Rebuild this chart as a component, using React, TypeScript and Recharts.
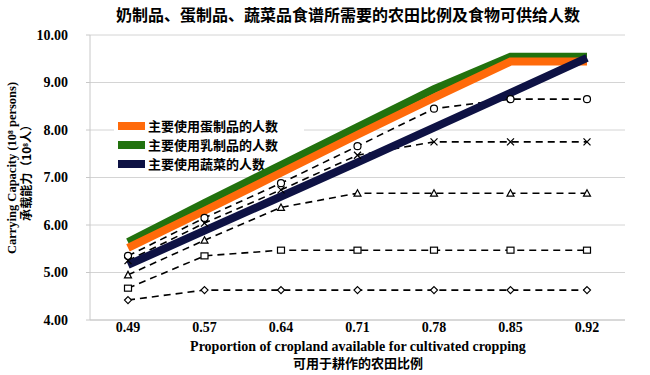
import React from 'react';
import { LineChart, Line, XAxis, YAxis, CartesianGrid, Customized } from 'recharts';

const categories = ['0.49', '0.57', '0.64', '0.71', '0.78', '0.85', '0.92'];
const eggSeries = [5.52, 6.3, 7.1, 7.9, 8.68, 9.44, 9.44];
const dairySeries = [5.64, 6.46, 7.26, 8.06, 8.86, 9.54, 9.54];
const vegSeries = [5.16, 5.88, 6.6, 7.32, 8.05, 8.78, 9.52];
const circleSeries = [5.35, 6.15, 6.88, 7.66, 8.45, 8.65, 8.65];
const crossSeries = [5.25, 6.04, 6.74, 7.47, 7.75, 7.75, 7.75];
const triangleSeries = [4.95, 5.68, 6.37, 6.67, 6.67, 6.67, 6.67];
const squareSeries = [4.67, 5.35, 5.47, 5.47, 5.47, 5.47, 5.47];
const diamondSeries = [4.42, 4.63, 4.63, 4.63, 4.63, 4.63, 4.63];
const yTicks = [4, 5, 6, 7, 8, 9, 10];

const legendItems = [
  { name: '主要使用蛋制品的人数', color: '#FF6A0A' },
  { name: '主要使用乳制品的人数', color: '#22720E' },
  { name: '主要使用蔬菜的人数', color: '#0E1244' },
];

const data = categories.map((c, i) => ({
  cat: c,
  egg: eggSeries[i],
  dairy: dairySeries[i],
  veg: vegSeries[i],
  circle: circleSeries[i],
  cross: crossSeries[i],
  tri: triangleSeries[i],
  square: squareSeries[i],
  diamond: diamondSeries[i],
}));

const serif = '"Liberation Serif", "Noto Sans CJK SC", serif';
const cjk = '"Noto Sans CJK SC", serif';

const makeDot = (shape: string) => (props: any) => {
  const { cx, cy, key, index } = props;
  const k = key ?? `${shape}-${index}`;
  if (cx == null || cy == null) return <g key={k} />;
  const s = 3.5;
  const common = { fill: '#fff', stroke: '#000', strokeWidth: 1.2 };
  if (shape === 'circle') return <circle key={k} cx={cx} cy={cy} r={s} {...common} />;
  if (shape === 'cross')
    return (
      <path key={k} d={`M${cx - s},${cy - s}L${cx + s},${cy + s}M${cx - s},${cy + s}L${cx + s},${cy - s}`} stroke="#000" strokeWidth={1.3} fill="none" />
    );
  if (shape === 'triangle')
    return <path key={k} d={`M${cx},${cy - s}L${cx + s},${cy + s - 0.5}L${cx - s},${cy + s - 0.5}Z`} {...common} />;
  if (shape === 'square')
    return <rect key={k} x={cx - s} y={cy - s + 0.5} width={2 * s} height={2 * s - 1} {...common} />;
  return <path key={k} d={`M${cx},${cy - s}L${cx + s},${cy}L${cx},${cy + s}L${cx - s},${cy}Z`} {...common} />;
};

const LegendBox = () => (
  <g>
    <rect x={114} y={115} width={190} height={58} fill="#fff" />
    {legendItems.map((it, i) => (
      <g key={it.name}>
        <rect x={118} y={122 + i * 19} width={27} height={8} fill={it.color} />
        <text x={148} y={131 + i * 19} fontSize={13} fontWeight="bold" fontFamily={cjk} fill="#000">
          {it.name}
        </text>
      </g>
    ))}
  </g>
);

const Labels = () => (
  <g>
    <text x={348} y={21} textAnchor="middle" fontSize={16} fontWeight="bold" fontFamily={cjk} fill="#000">
      奶制品、蛋制品、蔬菜品食谱所需要的农田比例及食物可供给人数
    </text>
    <text x={358} y={351} textAnchor="middle" fontSize={14} fontWeight="bold" fontFamily={serif} fill="#000">
      Proportion of cropland available for cultivated cropping
    </text>
    <text x={358} y={368} textAnchor="middle" fontSize={13} fontWeight="bold" fontFamily={cjk} fill="#000">
      可用于耕作的农田比例
    </text>
    <text transform="translate(16,168) rotate(-90)" textAnchor="middle" fontSize={12.5} fontWeight="bold" fontFamily={serif} fill="#000">
      Carrying Capacity (10⁸ persons)
    </text>
    <text transform="translate(31,170) rotate(-90)" textAnchor="middle" fontSize={12} fontWeight="bold" fontFamily={cjk} fill="#000">
      承载能力（10⁸人）
    </text>
  </g>
);

const dashedSeries = [
  { key: 'circle', shape: 'circle' },
  { key: 'cross', shape: 'cross' },
  { key: 'tri', shape: 'triangle' },
  { key: 'square', shape: 'square' },
  { key: 'diamond', shape: 'diamond' },
];

export default function App() {
  return (
    <div style={{ position: 'absolute', left: 0, top: 0, width: 650, height: 375, background: '#fff' }}>
      <LineChart width={650} height={375} data={data} margin={{ top: 35, right: 25, left: 0, bottom: 0 }}>
        <CartesianGrid vertical={false} stroke="#d4d4d4" />
        <XAxis
          dataKey="cat"
          height={55}
          padding={{ left: 38, right: 38 }}
          tickLine={false}
          tickSize={0}
          axisLine={{ stroke: '#c8c8c8' }}
          tick={{ fontSize: 14, fontWeight: 'bold', fill: '#000', fontFamily: serif }}
          tickMargin={2}
        />
        <YAxis
          width={90}
          domain={[4, 10]}
          ticks={yTicks}
          tickFormatter={(v: number) => v.toFixed(2)}
          tickSize={4}
          tickMargin={18}
          tickLine={{ stroke: '#c8c8c8' }}
          axisLine={{ stroke: '#c8c8c8' }}
          tick={{ fontSize: 14, fontWeight: 'bold', fill: '#000', fontFamily: serif }}
          interval={0}
        />
        <Customized component={LegendBox} />
        {dashedSeries.map((d) => (
          <Line
            key={d.key}
            dataKey={d.key}
            type="linear"
            stroke="#000"
            strokeWidth={1.6}
            strokeDasharray="7 5"
            dot={makeDot(d.shape)}
            activeDot={false}
            legendType="none"
            isAnimationActive={false}
          />
        ))}
        <Line dataKey="dairy" type="linear" stroke="#22720E" strokeWidth={8} dot={false} activeDot={false} isAnimationActive={false} />
        <Line dataKey="egg" type="linear" stroke="#FF6A0A" strokeWidth={8} dot={false} activeDot={false} isAnimationActive={false} />
        <Line dataKey="veg" type="linear" stroke="#0E1244" strokeWidth={8} dot={false} activeDot={false} isAnimationActive={false} />
        <Customized component={Labels} />
      </LineChart>
    </div>
  );
}
